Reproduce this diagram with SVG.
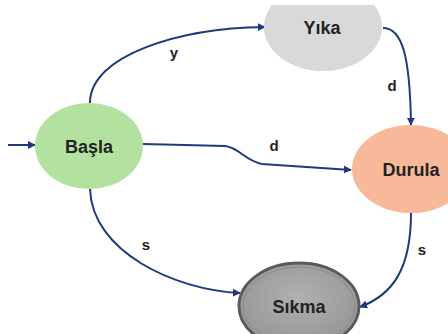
<svg xmlns="http://www.w3.org/2000/svg" width="448" height="334" viewBox="0 0 448 334">
<style>
.lbl{font-family:"Liberation Sans",Arial,sans-serif;font-weight:bold;font-size:18px;fill:#222;text-anchor:middle}
.el{font-family:"Liberation Sans",Arial,sans-serif;font-weight:bold;font-size:15px;fill:#222;text-anchor:middle}
.edge{fill:none;stroke:#1f3a7a;stroke-width:2;marker-end:url(#ah)}
</style>
<defs>
<marker id="ah" viewBox="0 0 10 10" refX="9" refY="5" markerWidth="4" markerHeight="4" orient="auto" markerUnits="strokeWidth">
<path d="M0,0 L10,5 L0,10 z" fill="#1f3a7a"/>
</marker>
<radialGradient id="gS" cx="50%" cy="40%" r="60%">
<stop offset="0" stop-color="#b0b0b0"/>
<stop offset="1" stop-color="#959595"/>
</radialGradient>
<clipPath id="topclip"><rect x="0" y="5" width="448" height="329"/></clipPath>
</defs>
<rect width="448" height="334" fill="#fff"/>
<g id="connectors">
<path class="edge" d="M8,145 L35,145"/>
<path class="edge" d="M90,103 C90,55 180,28 265,27"/>
<path class="edge" d="M383,28 C402,28 410,55 411,125"/>
<path class="edge" d="M143,144 L225,146 C240,148 244,160 262,164 L351,170"/>
<path class="edge" d="M90,189 C92,252 175,290 240,293"/>
<path class="edge" d="M411,213 C411,270 392,295 360,307"/>
</g>
<g id="edge-labels">
<text class="el" x="174" y="58">y</text>
<text class="el" x="392" y="91">d</text>
<text class="el" x="274" y="151">d</text>
<text class="el" x="146" y="250">s</text>
<text class="el" x="422" y="255">s</text>
</g>
<g id="basla">
<ellipse cx="89" cy="146" rx="54" ry="43" fill="#b3e2a0"/>
<text class="lbl" x="89" y="153">Başla</text>
</g>
<g id="yika">
<ellipse cx="323" cy="27" rx="59" ry="44" fill="#d9d9d9" clip-path="url(#topclip)"/>
<text class="lbl" x="322" y="34">Yıka</text>
</g>
<g id="durula">
<ellipse cx="411" cy="169" rx="59" ry="44" fill="#f8b89a"/>
<text class="lbl" x="411" y="176">Durula</text>
</g>
<g id="sikma">
<ellipse cx="299" cy="306" rx="60" ry="43" fill="url(#gS)" stroke="#5a5a5a" stroke-width="3"/>
<ellipse cx="299" cy="306" rx="56" ry="39" fill="none" stroke="#8a8a8a" stroke-width="1"/>
<text class="lbl" x="299" y="313">Sıkma</text>
</g>
</svg>
